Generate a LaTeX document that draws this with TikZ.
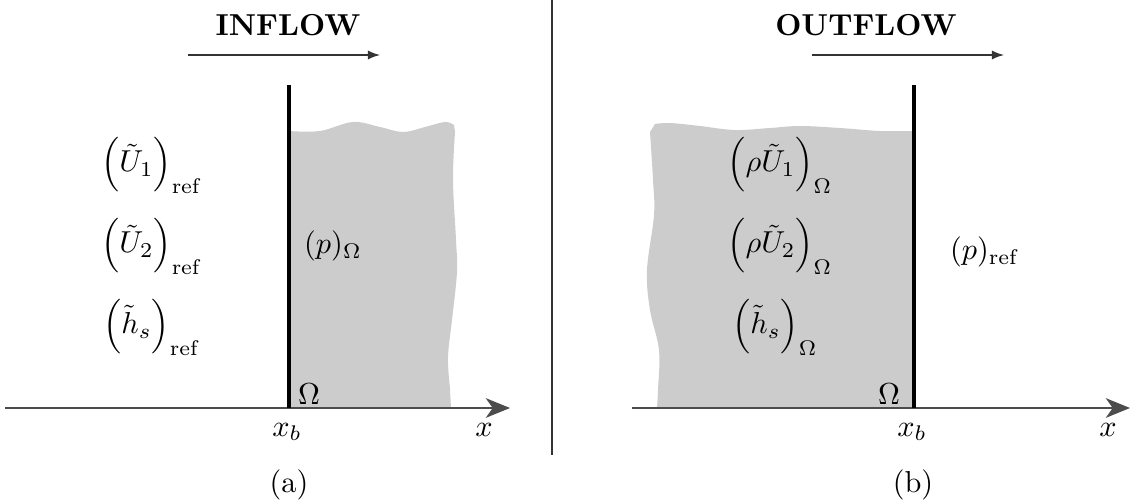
\documentclass[tikz,border=0pt]{standalone}
\usepackage{amsmath}
\usetikzlibrary{arrows.meta}
\begin{document}
\begin{tikzpicture}[x=0.33pt,y=-0.33pt,
  axis/.style={draw=black!70,line width=0.45pt,-{Stealth[length=8pt,width=6.5pt,inset=2.3pt]}},
  flowarrow/.style={draw=black!80,line width=0.45pt,-{Latex[length=4pt,width=3pt]}},
  wall/.style={draw=black,line width=1.1pt},
  region/.style={fill=black!20,draw=none},
  lbl/.style={inner sep=0pt,anchor=center}]
\path[use as bounding box] (0,0) rectangle (1130,504);
% ---------- left panel ----------
\fill[region] plot[smooth,tension=0.6] coordinates {(289,131) (320,131) (353,122) (380,127) (403,132) (425,127) (445,122) (454,125)}
  -- plot[smooth,tension=0.6] coordinates {(455,132) (453,180) (456,240) (457,272) (452,320) (448,357) (450,390) (451,408)}
  -- (289,408) -- cycle;
\coordinate (a0) at (5,408);
\coordinate (a1) at (510,408);
\draw[axis] (a0) -- (a1);
\coordinate (wa0) at (289,85);
\coordinate (wa1) at (289,408);
\draw[wall] (wa0) -- (wa1);
\node[lbl] (inflow) at (288,25) {\textbf{INFLOW}};
\coordinate (fa0) at (188,55);
\coordinate (fa1) at (380,55);
\draw[flowarrow] (fa0) -- (fa1);
\node[lbl] (u1ref) at (152,165) {$\Bigl(\tilde{U}_1\Bigr)_{\mathrm{ref}}$};
\node[lbl] (u2ref) at (152,246) {$\Bigl(\tilde{U}_2\Bigr)_{\mathrm{ref}}$};
\node[lbl] (hsref) at (152,327) {$\Bigl(\tilde{h}_s\Bigr)_{\mathrm{ref}}$};
\node[lbl] (pom) at (333,246) {$(p)_{\Omega}$};
\node[lbl] (oma) at (309,394) {$\Omega$};
\node[lbl] (xba) at (287,432) {$x_b$};
\node[lbl] (xa) at (484,430) {$x$};
\node[lbl] (capa) at (289,485) {(a)};
% ---------- divider ----------
\coordinate (d0) at (552,0);
\coordinate (d1) at (552,455);
\draw[black!80,line width=0.45pt] (d0) -- (d1);
% ---------- right panel ----------
\fill[region] plot[smooth,tension=0.6] coordinates {(914,131) (880,131) (840,128) (800,126) (770,128) (735,130) (700,126) (670,123) (655,124)}
  -- plot[smooth,tension=0.6] coordinates {(650,132) (653,180) (654,215) (647,270) (650,310) (659,350) (658,390) (657,408)}
  -- (914,408) -- cycle;
\coordinate (b0) at (632,408);
\coordinate (b1) at (1130,408);
\draw[axis] (b0) -- (b1);
\coordinate (wb0) at (914,85);
\coordinate (wb1) at (914,408);
\draw[wall] (wb0) -- (wb1);
\node[lbl] (outflow) at (866,25) {\textbf{OUTFLOW}};
\coordinate (fb0) at (812,55);
\coordinate (fb1) at (1004,55);
\draw[flowarrow] (fb0) -- (fb1);
\node[lbl] (ru1) at (780,165) {$\Bigl(\rho\tilde{U}_1\Bigr)_{\Omega}$};
\node[lbl] (ru2) at (780,246) {$\Bigl(\rho\tilde{U}_2\Bigr)_{\Omega}$};
\node[lbl] (hsom) at (775,327) {$\Bigl(\tilde{h}_s\Bigr)_{\Omega}$};
\node[lbl] (pref) at (985,252) {$(p)_{\mathrm{ref}}$};
\node[lbl] (omb) at (889,394) {$\Omega$};
\node[lbl] (xbb) at (912,432) {$x_b$};
\node[lbl] (xb) at (1108,430) {$x$};
\node[lbl] (capb) at (913,485) {(b)};
\end{tikzpicture}
\end{document}
